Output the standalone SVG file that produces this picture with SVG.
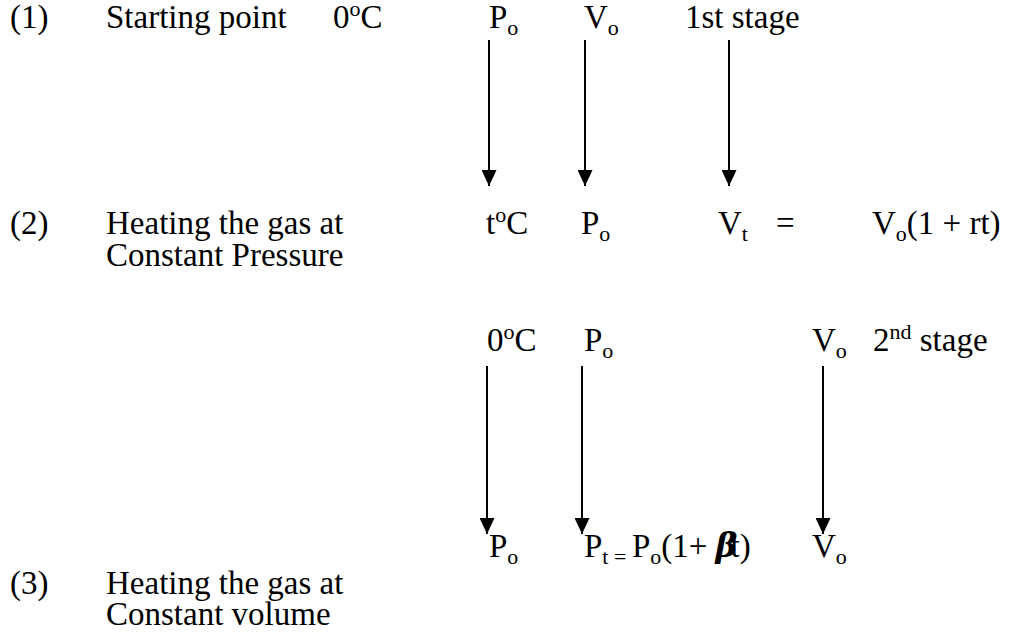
<svg xmlns="http://www.w3.org/2000/svg" width="1012" height="642" viewBox="0 0 1012 642">
<style>
text{font-family:"Liberation Serif","Times New Roman",serif;font-size:33px;fill:#000}
.s{font-size:22px}
.conn line{stroke:#000;stroke-width:2;fill:none;marker-end:url(#ah)}
</style>
<defs>
<marker id="ah" viewBox="0 0 16 15" refX="16" refY="7.5" markerWidth="16" markerHeight="15" markerUnits="userSpaceOnUse" orient="auto">
<path d="M0,0 L16,7.5 L0,15 z" fill="#000"/>
</marker>
</defs>
<rect width="1012" height="642" fill="#fff"/>
<g id="row1">
<text x="10" y="28">(1)</text>
<text x="106" y="28">Starting point</text>
<text x="333" y="28">0<tspan class="s" dy="-12">o</tspan><tspan dy="12">C</tspan></text>
<text x="489" y="28">P<tspan class="s" dy="7">o</tspan></text>
<text x="584" y="28">V<tspan class="s" dy="7">o</tspan></text>
<text x="685" y="28">1st stage</text>
</g>
<g id="row2">
<text x="10" y="234">(2)</text>
<text x="106" y="234">Heating the gas at</text>
<text x="106" y="266">Constant Pressure</text>
<text x="486" y="234">t<tspan class="s" dy="-12">o</tspan><tspan dy="12">C</tspan></text>
<text x="581" y="234">P<tspan class="s" dy="7">o</tspan></text>
<text x="718" y="234">V<tspan class="s" dy="7">t</tspan></text>
<text x="776" y="234">=</text>
<text x="872" y="234">V<tspan class="s" dy="7">o</tspan><tspan dy="-7">(1 + rt)</tspan></text>
</g>
<g id="row3">
<text x="487" y="351">0<tspan class="s" dy="-12">o</tspan><tspan dy="12">C</tspan></text>
<text x="584" y="351">P<tspan class="s" dy="7">o</tspan></text>
<text x="812" y="351">V<tspan class="s" dy="7">o</tspan></text>
<text x="873" y="351">2<tspan class="s" dy="-12">nd</tspan><tspan dy="12"> stage</tspan></text>
</g>
<g id="row4">
<text x="489" y="557">P<tspan class="s" dy="7">o</tspan></text>
<text x="584" y="557">P<tspan class="s" dy="7">t = </tspan><tspan dy="-7">P</tspan><tspan class="s" dy="7">o</tspan><tspan dy="-7">(1+ </tspan><tspan font-style="italic" font-weight="bold" font-family="'DejaVu Serif',serif">β</tspan><tspan dx="-7">t)</tspan></text>
<text x="812" y="557">V<tspan class="s" dy="7">o</tspan></text>
</g>
<g id="row5">
<text x="10" y="594">(3)</text>
<text x="106" y="594">Heating the gas at</text>
<text x="106" y="625">Constant volume</text>
</g>
<g id="connectors" class="conn">
<line x1="489" y1="40" x2="489" y2="186"/>
<line x1="585" y1="40" x2="585" y2="186"/>
<line x1="729" y1="40" x2="729" y2="186"/>
<line x1="487" y1="366" x2="487" y2="534"/>
<line x1="582" y1="366" x2="582" y2="534"/>
<line x1="823" y1="366" x2="823" y2="534"/>
</g>
</svg>
